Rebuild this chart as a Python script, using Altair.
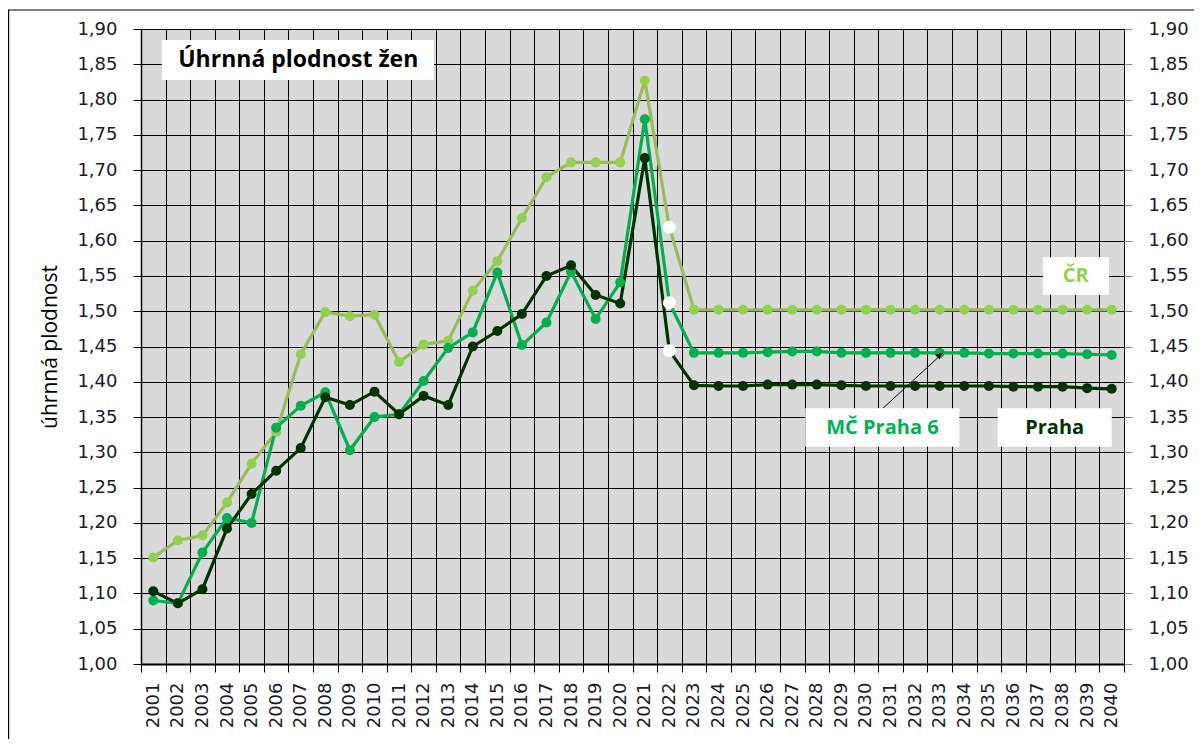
import altair as alt
import pandas as pd

# ---------------- data ----------------
years = list(range(2001, 2041))
series_names = ["ČR", "MČ Praha 6", "Praha"]

cr = [1.151, 1.175, 1.182, 1.229, 1.284, 1.329, 1.439, 1.499, 1.493, 1.495,
      1.428, 1.453, 1.458, 1.529, 1.571, 1.632, 1.690, 1.711, 1.711, 1.711,
      1.827, 1.619, 1.502, 1.502, 1.502, 1.502, 1.502, 1.502, 1.502, 1.502,
      1.502, 1.502, 1.502, 1.502, 1.502, 1.502, 1.502, 1.502, 1.502, 1.502]
mc6 = [1.090, 1.086, 1.158, 1.207, 1.200, 1.335, 1.366, 1.385, 1.303, 1.350,
       1.354, 1.401, 1.448, 1.470, 1.555, 1.452, 1.484, 1.556, 1.489, 1.541,
       1.772, 1.512, 1.441, 1.441, 1.441, 1.442, 1.443, 1.443, 1.441, 1.441,
       1.441, 1.441, 1.441, 1.441, 1.440, 1.440, 1.440, 1.440, 1.439, 1.438]
praha = [1.103, 1.086, 1.106, 1.192, 1.241, 1.274, 1.306, 1.378, 1.367, 1.386,
         1.354, 1.380, 1.367, 1.450, 1.472, 1.496, 1.550, 1.565, 1.523, 1.511,
         1.717, 1.444, 1.395, 1.394, 1.394, 1.396, 1.396, 1.396, 1.395, 1.394,
         1.394, 1.394, 1.394, 1.394, 1.394, 1.393, 1.393, 1.393, 1.391, 1.390]
estimate_year = 2022

y_ticks = [1.00, 1.05, 1.10, 1.15, 1.20, 1.25, 1.30, 1.35, 1.40, 1.45,
           1.50, 1.55, 1.60, 1.65, 1.70, 1.75, 1.80, 1.85, 1.90]

title_text = ["Úhrnná plodnost žen"]
title_x = [2006.9]
title_y = [1.856]
title_box_x1 = [2001.35]
title_box_x2 = [2012.42]
title_box_y1 = [1.8277]
title_box_y2 = [1.8844]

label_series = ["ČR", "MČ Praha 6", "Praha"]
label_text = ["ČR", "MČ Praha  6", "Praha"]
label_x = [2038.54, 2030.67, 2037.68]
label_y = [1.550, 1.335, 1.335]
label_box_x1 = [2037.20, 2027.53, 2035.36]
label_box_x2 = [2039.89, 2033.80, 2040.00]
label_box_y1 = [1.5230, 1.3080, 1.3080]
label_box_y2 = [1.5769, 1.3624, 1.3624]

arrow_x1 = [2030.69]
arrow_y1 = [1.3624]
arrow_x2 = [2033.15]
arrow_y2 = [1.4413]
arrow_head_x = [2033.0]
arrow_head_y = [1.4380]

# ---------------- tables ----------------
rows = []
for name, vals in zip(series_names, [cr, mc6, praha]):
    for yr, v in zip(years, vals):
        rows.append({"year": yr, "value": v, "series": name})
df = pd.DataFrame(rows)

title_df = pd.DataFrame({"text": title_text, "x": title_x, "y": title_y,
                         "x1": title_box_x1, "x2": title_box_x2,
                         "y1": title_box_y1, "y2": title_box_y2})
label_df = pd.DataFrame({"series": label_series, "text": label_text,
                         "x": label_x, "y": label_y,
                         "x1": label_box_x1, "x2": label_box_x2,
                         "y1": label_box_y1, "y2": label_box_y2})
arrow_df = pd.DataFrame({"x1": arrow_x1, "y1": arrow_y1, "x2": arrow_x2, "y2": arrow_y2,
                         "hx": arrow_head_x, "hy": arrow_head_y})
frame_df = pd.DataFrame({"k": [0]})

# ---------------- scales / axes ----------------
line_colors = ["#9bbb59", "#00b050", "#003300"]
marker_colors = ["#92d050", "#00b050", "#003300"]

half_years = [y - 0.5 for y in years] + [years[-1] + 0.5]
x_scale = alt.Scale(domain=[half_years[0], half_years[-1]], nice=False, zero=False)
y_scale = alt.Scale(domain=[1.0, 1.9], nice=False, zero=False)

tick_font = "DejaVu Sans"
x_axis = alt.Axis(values=half_years,
                  labelExpr="datum.value < 2040 ? toString(datum.value + 0.5) : ''",
                  labelAngle=-90, labelOffset=12.29, labelFlush=False, labelOverlap=False,
                  grid=True, gridColor="black", gridWidth=1, gridOpacity=1,
                  tickColor="black", tickSize=8, tickWidth=1,
                  domainColor="black", domainWidth=2,
                  labelFont=tick_font, labelFontSize=18, labelColor="#1a1a2a",
                  labelPadding=10, title=None)
label_expr_y = "replace(format(datum.value, '.2f'), '.', ',')"
y_axis_left = alt.Axis(values=y_ticks, labelExpr=label_expr_y,
                       grid=True, gridColor="black", gridWidth=1, gridOpacity=1,
                       tickColor="black", tickSize=8, domainColor="black", domainWidth=1.5,
                       labelFont=tick_font, labelFontSize=18, labelColor="#1a1a2a",
                       labelPadding=16,
                       title="úhrnná  plodnost", titleFont="Open Sans", titleFontSize=21,
                       titleFontWeight="normal", titleColor="black", titlePadding=16)
y_axis_right = alt.Axis(values=y_ticks, labelExpr=label_expr_y, orient="right",
                        grid=False, tickColor="#8c8c8c", tickSize=8, domain=False,
                        labelFont=tick_font, labelFontSize=18, labelColor="#1a1a2a",
                        labelPadding=16, title=None)


def X(field="year"):
    return alt.X(f"{field}:Q", scale=x_scale, axis=x_axis)


def Y(field="value", axis=None):
    return alt.Y(f"{field}:Q", scale=y_scale, axis=axis)


stroke_enc = alt.Stroke("series:N", scale=alt.Scale(domain=series_names, range=line_colors), legend=None)
fill_enc = alt.Fill("series:N", scale=alt.Scale(domain=series_names, range=marker_colors), legend=None)

base = alt.Chart(df)

lines = base.mark_line(strokeWidth=3.2).encode(
    x=X(), y=Y(axis=y_axis_left), stroke=stroke_enc, detail="series:N",
    order="year:Q")

points = base.mark_point(filled=True, size=100, opacity=1).encode(
    x=X(), y=Y(axis=y_axis_right), fill=fill_enc)

est_points = base.transform_filter(alt.datum.year == estimate_year).mark_point(
    filled=True, size=170, opacity=1, fill="white").encode(x=X(), y=Y())

arrow_line = alt.Chart(arrow_df).mark_rule(color="black", strokeWidth=1).encode(
    x=X("x1"), y=Y("y1"), x2="x2:Q", y2="y2:Q")
arrow_head = alt.Chart(arrow_df).mark_point(shape="triangle-up", filled=True, color="black",
                                            size=45, angle=47, opacity=1).encode(
    x=X("hx"), y=Y("hy"))

title_box = alt.Chart(title_df).mark_rect(fill="white").encode(
    x=X("x1"), x2="x2:Q", y=Y("y1"), y2="y2:Q")
title_txt = alt.Chart(title_df).mark_text(font="Open Sans", fontSize=23, fontWeight="bold",
                                          color="black", align="center", baseline="middle").encode(
    x=X("x"), y=Y("y"), text="text:N")

label_box = alt.Chart(label_df).mark_rect(fill="white").encode(
    x=X("x1"), x2="x2:Q", y=Y("y1"), y2="y2:Q")
label_txt = alt.Chart(label_df).mark_text(font="Open Sans", fontSize=20, fontWeight="bold",
                                          align="center", baseline="middle").encode(
    x=X("x"), y=Y("y"), text="text:N", fill=fill_enc)

frame = alt.Chart(frame_df).mark_rect(fill=None, stroke="black", strokeWidth=1.2).encode(
    x=alt.value(-132.4), x2=alt.value(1080), y=alt.value(-19), y2=alt.value(740))

chart = alt.layer(
    lines, points, est_points, arrow_line, arrow_head,
    title_box, title_txt, label_box, label_txt, frame
).resolve_scale(y="independent").properties(
    width=983, height=635,
    padding={"left": 133, "top": 21, "right": 70, "bottom": 75},
    autosize=alt.AutoSizeParams(type="none"),
    background="white",
).configure_view(stroke="#8c8c8c", strokeWidth=1, fill="#d9d9d9")

chart.save("out.html", embed_options={"renderer": "svg", "actions": False})
